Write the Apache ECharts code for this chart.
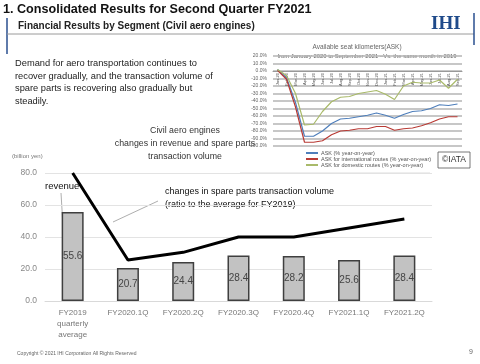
<!DOCTYPE html>
<html><head><meta charset="utf-8">
<script src="https://cdn.jsdelivr.net/npm/echarts@6/dist/echarts.min.js"></script>
<style>html,body{margin:0;padding:0;background:#fff}#c{width:480px;height:364px}</style>
</head><body><div id="c"></div>
<script>
// Main chart data
const categories = ['FY2019\nquarterly\naverage','FY2020.1Q','FY2020.2Q','FY2020.3Q','FY2020.4Q','FY2021.1Q','FY2021.2Q'];
const revenue = [55.6, 20.7, 24.4, 28.4, 28.2, 25.6, 28.4];
const spareRatio = [100, 32, 38, 50, 50, 57, 64];
const revenueTicks = [0, 20, 40, 60, 80];

// Inset (ASK) data, Jan 2020 - Sep 2021
const months = ['Jan-20','Feb-20','Mar-20','Apr-20','May-20','Jun-20','Jul-20','Aug-20','Sep-20','Oct-20','Nov-20','Dec-20','Jan-21','Feb-21','Mar-21','Apr-21','May-21','Jun-21','Jul-21','Aug-21','Sep-21'];
const askTotal = [2, -9, -42, -87, -87, -80, -70, -64, -63, -61, -59, -56, -59, -63, -58, -54, -53, -50, -45, -46, -44];
const askIntl = [1, -11, -48, -95, -95, -93, -85, -80, -79, -77, -77, -74, -74, -79, -77, -76, -73, -69, -64, -61, -61];
const askDom = [2, -6, -30, -72, -71, -54, -41, -35, -34, -30, -28, -26, -31, -38, -20, -15, -16, -16, -12, -23, -11];

const chart = echarts.init(document.getElementById('c'), null, {renderer: 'canvas'});
const F = 'Liberation Sans, Arial, sans-serif';
function txt(x, y, text, font, fill, align, lh) {
  return {type: 'text', x: x, y: y, style: {text: text, font: font, fill: fill, align: align || 'left', verticalAlign: 'top', lineHeight: lh}};
}
const option = {
  animation: false,
  textStyle: {fontFamily: F},
  grid: [
    {left: 45, right: 48, top: 173, bottom: 63},
    {left: 273, right: 18, top: 56, bottom: 218}
  ],
  legend: {
    data: ['ASK (% year-on-year)', 'ASK for international routes (% year-on-year)', 'ASK for domestic routes (% year-on-year)'],
    orient: 'vertical', left: 306, top: 150, itemWidth: 12, itemHeight: 2, itemGap: 0,
    icon: 'rect', padding: 0,
    textStyle: {fontSize: 5.5, color: '#555', padding: [0, 0, 0, -2]}
  },
  xAxis: [
    {type: 'category', data: categories, gridIndex: 0,
      axisLine: {lineStyle: {color: '#d9d9d9'}}, axisTick: {show: false},
      axisLabel: {color: '#777', fontSize: 8, lineHeight: 11, margin: 6, interval: 0}},
    {type: 'category', data: months, gridIndex: 1, boundaryGap: true, position: 'bottom', offset: -75,
      axisLine: {onZero: false, lineStyle: {color: '#999'}}, axisTick: {show: false},
      axisLabel: {rotate: 90, fontSize: 4, color: '#555', margin: 2, interval: 0}}
  ],
  yAxis: [
    {type: 'value', gridIndex: 0, min: 0, max: 80, interval: 20,
      axisLabel: {color: '#888', fontSize: 8.5, margin: 8, formatter: v => revenueTicks.includes(v) ? v.toFixed(1) : ''},
      splitLine: {lineStyle: {color: '#e3e3e3'}}},
    {type: 'value', gridIndex: 0, min: 0, max: 100, show: false, splitLine: {show: false}},
    {type: 'value', gridIndex: 1, min: -100, max: 20, interval: 10,
      axisLabel: {color: '#666', fontSize: 5, margin: 6, formatter: v => v.toFixed(1) + '%'},
      splitLine: {lineStyle: {color: '#b5b5b5', width: 1.5}}}
  ],
  series: [
    {type: 'bar', xAxisIndex: 0, yAxisIndex: 0, data: revenue, barWidth: 22,
      itemStyle: {color: '#c2c2c2', borderColor: '#3f3f3f', borderWidth: 1.5},
      label: {show: true, position: 'inside', color: '#444', fontSize: 10, formatter: p => p.value.toFixed(1)}},
    {type: 'line', xAxisIndex: 0, yAxisIndex: 1, data: spareRatio, symbol: 'none',
      lineStyle: {color: '#000', width: 3}, z: 5,
      label: {show: true, position: 'top', distance: 6, color: '#777', fontSize: 8, formatter: p => p.value + '%'}},
    {name: 'ASK (% year-on-year)', type: 'line', xAxisIndex: 1, yAxisIndex: 2, data: askTotal, symbol: 'none',
      lineStyle: {color: '#4f7fbb', width: 1.2}, itemStyle: {color: '#4f7fbb'}},
    {name: 'ASK for international routes (% year-on-year)', type: 'line', xAxisIndex: 1, yAxisIndex: 2, data: askIntl, symbol: 'none',
      lineStyle: {color: '#b83a34', width: 1.2}, itemStyle: {color: '#b83a34'}},
    {name: 'ASK for domestic routes (% year-on-year)', type: 'line', xAxisIndex: 1, yAxisIndex: 2, data: askDom, symbol: 'none',
      lineStyle: {color: '#a9ba6a', width: 1.2}, itemStyle: {color: '#a9ba6a'}}
  ],
  graphic: [
    txt(3, 3, '1. Consolidated Results for Second Quarter FY2021', 'bold 12.6px ' + F, '#111'),
    {type: 'line', shape: {x1: 7, y1: 18, x2: 7, y2: 54}, style: {stroke: '#2a4f8f', lineWidth: 1.5}},
    {type: 'line', shape: {x1: 7, y1: 34, x2: 474, y2: 34}, style: {stroke: '#9a9a9a', lineWidth: 1}},
    {type: 'line', shape: {x1: 474, y1: 13, x2: 474, y2: 45}, style: {stroke: '#2a4f8f', lineWidth: 1.5}},
    txt(18, 21, 'Financial Results by Segment (Civil aero engines)', 'bold 10px ' + F, '#222'),
    txt(431, 15, 'IHI', 'bold 19px Liberation Serif, serif', '#1f4a8a'),
    txt(15, 57, 'Demand for aero transportation continues to\nrecover gradually, and the transaction volume of\nspare parts is recovering also gradually but\nsteadily.', '9.3px ' + F, '#222', 'left', 12.7),
    txt(185, 124, 'Civil aero engines\nchanges in revenue and spare parts\ntransaction volume', '8.8px ' + F, '#333', 'center', 13),
    txt(12, 153, '(billion yen)', '6px ' + F, '#777'),
    txt(45, 181, 'revenue', '9.5px ' + F, '#111'),
    {type: 'line', shape: {x1: 61, y1: 193, x2: 63, y2: 226}, style: {stroke: '#999', lineWidth: 0.8}},
    txt(165, 185, 'changes in spare parts transaction volume\n(ratio to the average for FY2019)', '9px ' + F, '#111', 'left', 13),
    {type: 'line', shape: {x1: 158, y1: 201, x2: 113, y2: 222}, style: {stroke: '#999', lineWidth: 0.8}},
    txt(357, 44, 'Available seat kilometers(ASK)', '6.5px ' + F, '#666', 'center'),
    txt(367, 53, 'from January 2020 to September 2021 \u2013Vs. the same month in 2019', '5.9px ' + F, '#666', 'center'),
    {type: 'rect', shape: {x: 438, y: 152, width: 32, height: 16}, style: {fill: '#fff', stroke: '#555', lineWidth: 0.8}},
    {type: 'text', x: 454, y: 160, style: {text: '\u00a9IATA', font: '8.5px ' + F, fill: '#333', align: 'center', verticalAlign: 'middle'}},
    {type: 'line', shape: {x1: 240, y1: 173, x2: 430, y2: 173}, style: {stroke: '#eeeeee', lineWidth: 2}},
    txt(17, 351, 'Copyright \u00a9 2021 IHI Corporation All Rights Reserved', '5px ' + F, '#666'),
    txt(469, 349, '9', '7px ' + F, '#666')
  ]
};
chart.setOption(option);
</script></body></html>
